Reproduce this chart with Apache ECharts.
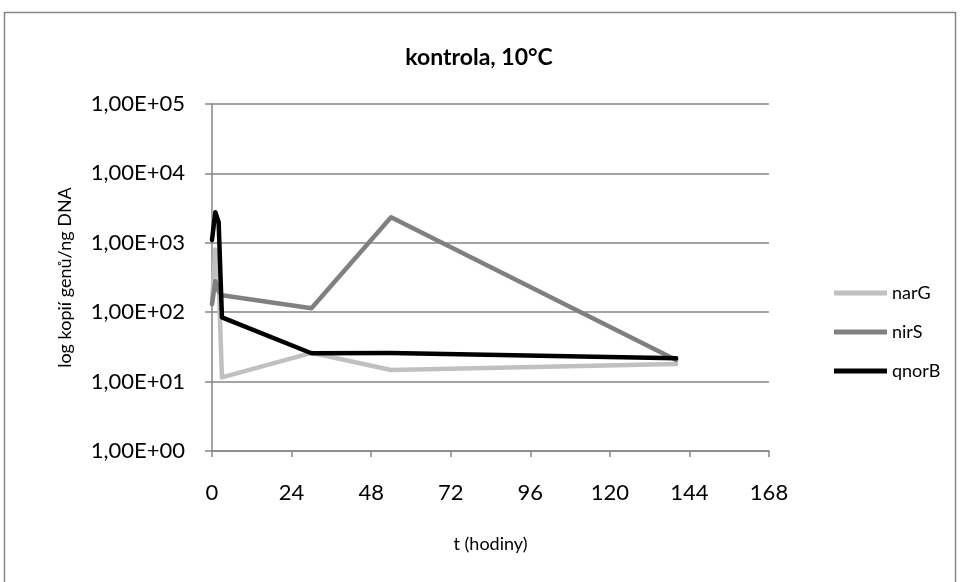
<!DOCTYPE html>
<html>
<head>
<meta charset="utf-8">
<script src="https://cdn.jsdelivr.net/npm/echarts@6/dist/echarts.min.js"></script>
<style>
  html, body { margin: 0; padding: 0; background: #fff; }
  #chart { width: 960px; height: 582px; }
</style>
</head>
<body>
<div id="chart"></div>
<script>
// Sampling times (hours) and gene copy numbers per ng DNA
const hours = [0, 1, 2, 3, 30, 54, 140];
const narG  = [135, 800, 300, 11.5, 26, 14.7, 18];
const nirS  = [130, 280, 200, 175, 114, 2330, 20.4];
const qnorB = [1100, 2750, 2000, 84, 25.6, 25.8, 21.7];
const xTicks = [0, 24, 48, 72, 96, 120, 144, 168];

const FONT = 'Lato, "Open Sans", sans-serif';

function pairs(ys) { return hours.map((t, i) => [t, ys[i]]); }

function sciLabel(v) {
  const e = Math.round(Math.log10(v));
  return '1,00E+' + (e < 10 ? '0' + e : e);
}

const chart = echarts.init(document.getElementById('chart'), null, { renderer: 'canvas' });

const lineSeries = (name, ys, color) => ({
  name: name,
  type: 'line',
  data: pairs(ys),
  showSymbol: false,
  symbol: 'none',
  lineStyle: { color: color, width: 4.5, cap: 'round', join: 'round' },
  itemStyle: { color: color },
  z: 3
});

chart.setOption({
  backgroundColor: '#fff',
  animation: false,
  graphic: [{
    type: 'rect',
    shape: { x: 4.5, y: 12.5, width: 951, height: 580 },
    style: { fill: 'none', stroke: '#868686', lineWidth: 1.5 },
    silent: true
  }],
  title: {
    text: 'kontrola, 10°C',
    left: 474, top: 41, textAlign: 'center',
    textStyle: { fontFamily: FONT, fontSize: 23, fontWeight: 'bold', color: '#000' }
  },
  grid: { left: 212, right: 191, top: 104, bottom: 131 },
  legend: {
    orient: 'vertical',
    left: 829, top: 279,
    itemWidth: 53, itemHeight: 5, itemGap: 21,
    icon: 'rect',
    textStyle: { fontFamily: FONT, fontSize: 18, color: '#000' },
    data: ['narG', 'nirS', 'qnorB']
  },
  xAxis: {
    type: 'value',
    min: 0, max: 168, interval: 24,
    name: 't (hodiny)',
    nameLocation: 'middle', nameGap: 84,
    nameTextStyle: { fontFamily: FONT, fontSize: 18, color: '#000' },
    axisLine: { lineStyle: { color: '#868686', width: 1.5 } },
    axisTick: { show: true, length: 6, inside: false, lineStyle: { color: '#868686', width: 1.5 } },
    axisLabel: {
      fontFamily: FONT, fontSize: 22, color: '#000', margin: 31,
      formatter: v => xTicks.includes(v) ? String(v) : ''
    },
    splitLine: { show: false }
  },
  yAxis: {
    type: 'log', logBase: 10,
    min: 1, max: 100000,
    name: 'log kopií genů/ng DNA',
    nameLocation: 'middle', nameGap: 138, nameRotate: 90,
    nameTextStyle: { fontFamily: FONT, fontSize: 18, color: '#000' },
    axisLine: { show: true, lineStyle: { color: '#868686', width: 1.5 } },
    axisTick: { show: true, length: 7, lineStyle: { color: '#868686', width: 1.5 } },
    axisLabel: { fontFamily: FONT, fontSize: 22, color: '#000', margin: 27, formatter: sciLabel },
    splitLine: { show: true, lineStyle: { color: '#868686', width: 1.5 } },
    minorTick: { show: false }
  },
  series: [
    lineSeries('narG', narG, '#c0c0c0'),
    lineSeries('nirS', nirS, '#808080'),
    lineSeries('qnorB', qnorB, '#000000')
  ]
});
</script>
</body>
</html>
